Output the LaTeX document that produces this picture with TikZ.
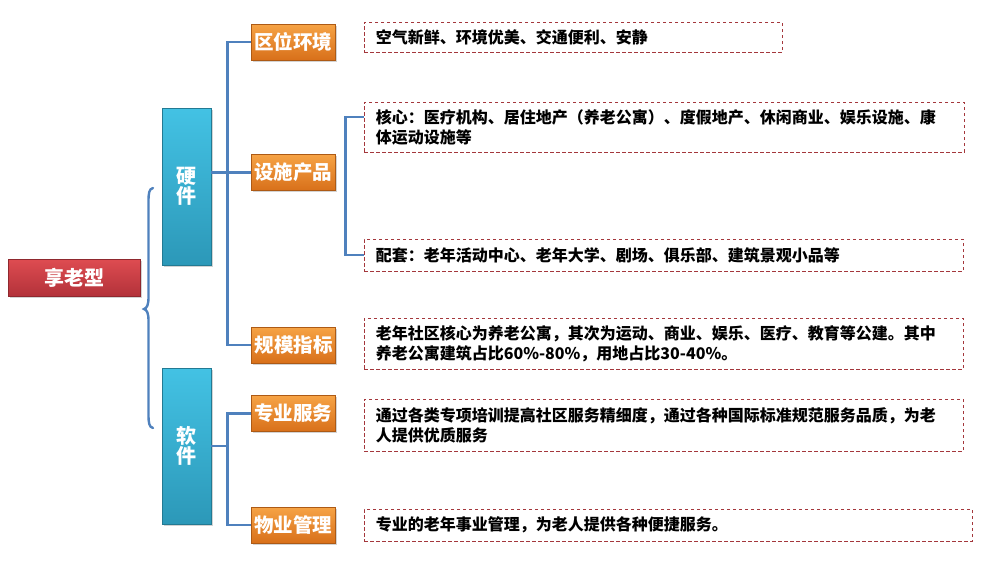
\documentclass[tikz,border=0pt]{standalone}
\usepackage{fontspec}
\setmainfont{Noto Sans CJK SC}
\usetikzlibrary{shadows}
\definecolor{linkblue}{HTML}{4F81BD}
\definecolor{dashred}{HTML}{A4373C}
\definecolor{redtop}{HTML}{DE4C51}
\definecolor{redbot}{HTML}{B3323A}
\definecolor{cyantop}{HTML}{43C2E4}
\definecolor{cyanbot}{HTML}{2C98B8}
\definecolor{orgtop}{HTML}{F6A345}
\definecolor{orgbot}{HTML}{D8701A}
\tikzset{
  rootbox/.style={draw=redbot!80!black, line width=0.6pt, top color=redtop, bottom color=redbot,
    minimum width=132pt, minimum height=37pt, inner sep=0pt, text=white,
    font=\fontsize{20}{22}\selectfont\bfseries, drop shadow={opacity=0.35, shadow xshift=1.5pt, shadow yshift=-1.5pt}},
  catbox/.style={draw=cyanbot!80!black, line width=0.6pt, top color=cyantop, bottom color=cyanbot,
    minimum width=49pt, inner sep=0pt, text=white, align=center,
    font=\fontsize{20}{20}\selectfont\bfseries, drop shadow={opacity=0.35, shadow xshift=1.5pt, shadow yshift=-1.5pt}},
  itembox/.style={draw=orgbot!80!black, line width=0.6pt, top color=orgtop, bottom color=orgbot,
    minimum width=84pt, minimum height=36pt, inner sep=0pt, text=white,
    font=\fontsize{19.5}{20}\selectfont\bfseries, drop shadow={opacity=0.35, shadow xshift=1.5pt, shadow yshift=-1.5pt}},
  descbox/.style={draw=dashred, line width=0.8pt, dash pattern=on 3.5pt off 2.5pt,
    inner sep=0pt, text=black, align=left,
    font=\fontsize{16}{20}\selectfont\bfseries},
  link/.style={draw=linkblue, line width=2.6pt},
}
\begin{document}
\begin{tikzpicture}[x=1pt,y=-1pt]
\useasboundingbox (0,0) rectangle (982,566);
% main nodes
\node[rootbox] (root) at (74,277.5) {享老型};
\node[catbox, minimum height=157pt] (hw) at (186.5,186.5) {硬\\件};
\node[catbox, minimum height=156pt] (sw) at (186.5,446) {软\\件};
% item nodes
\node[itembox] (o1) at (293,42) {区位环境};
\node[itembox] (o2) at (293,172.5) {设施产品};
\node[itembox] (o3) at (293.5,345) {规模指标};
\node[itembox] (o4) at (293,413.5) {专业服务};
\node[itembox] (o5) at (293,525) {物业管理};
% description boxes
\node[descbox, minimum width=418pt, minimum height=30pt] (t1) at (573,37) {};
\node[descbox, minimum width=600pt, minimum height=50pt] (t2) at (664,127) {};
\node[descbox, minimum width=599pt, minimum height=32pt] (t3) at (663.5,255) {};
\node[descbox, minimum width=599pt, minimum height=51pt] (t4) at (663.5,343.5) {};
\node[descbox, minimum width=599pt, minimum height=52pt] (t5) at (663.5,425) {};
\node[descbox, minimum width=608pt, minimum height=32pt] (t6) at (668,525) {};
\tikzset{desctext/.style={anchor=west, inner sep=0pt, align=left, font=\fontsize{16}{20}\selectfont\bfseries}}
\node[desctext] (l1) at ([xshift=12pt]t1.west) {空气新鲜、环境优美、交通便利、安静};
\node[desctext] (l2) at ([xshift=12pt]t2.west) {核心：医疗机构、居住地产（养老公寓）、度假地产、休闲商业、娱乐设施、康\\体运动设施等};
\node[desctext] (l3) at ([xshift=12pt]t3.west) {配套：老年活动中心、老年大学、剧场、俱乐部、建筑景观小品等};
\node[desctext] (l4) at ([xshift=12pt]t4.west) {老年社区核心为养老公寓，其次为运动、商业、娱乐、医疗、教育等公建。其中\\养老公寓建筑占比60\%-80\%，用地占比30-40\%。};
\node[desctext] (l5) at ([xshift=12pt]t5.west) {通过各类专项培训提高社区服务精细度，通过各种国际标准规范服务品质，为老\\人提供优质服务};
\node[desctext] (l6) at ([xshift=12pt]t6.west) {专业的老年事业管理，为老人提供各种便捷服务。};
% brace
\coordinate (bt) at (153,188);
\coordinate (bm) at (144,309);
\coordinate (bb) at (153,428);
\draw[draw=linkblue, line width=2.4pt, line cap=round]
  (bt) .. controls (149,189) and (148.5,193) .. (148.5,202) -- (148.5,297)
  .. controls (148.5,305) and (147,308) .. (bm)
  .. controls (147,310) and (148.5,313) .. (148.5,321) -- (148.5,414)
  .. controls (148.5,423) and (149,427) .. (bb);
% hardware connectors
\draw[link] (hw.east |- o2.west) -- (o2.west);
\draw[link] (o1.west) -- ++(-23,0) |- (o3.west);
% software connectors
\draw[link] (sw.east) -- ++(17,0);
\draw[link] (o4.west) -- ++(-23,0) |- (o5.west);
% sub connectors for facilities
\draw[link] ([yshift=10pt]t2.west) -- ++(-18,0) |- (t3.west);
\end{tikzpicture}
\end{document}
